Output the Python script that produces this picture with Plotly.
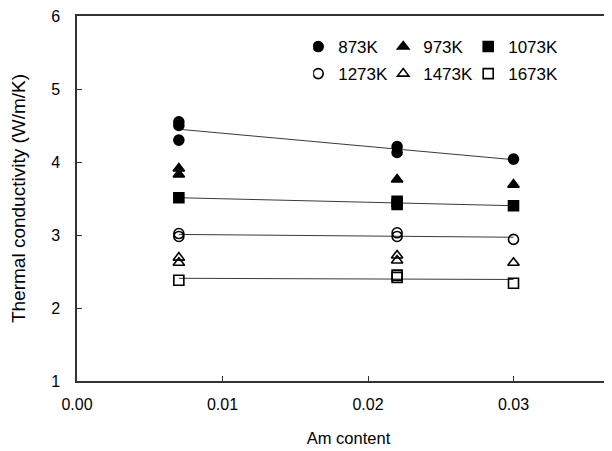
import numpy as np
import plotly.graph_objects as go

# Data
series_names = ["873K", "973K", "1073K", "1273K", "1473K", "1673K"]
x_873 = [0.007, 0.007, 0.007, 0.022, 0.022, 0.030]
y_873 = [4.55, 4.50, 4.30, 4.21, 4.13, 4.04]
x_973 = [0.007, 0.007, 0.022, 0.030]
y_973 = [3.91, 3.83, 3.76, 3.69]
x_1073 = [0.007, 0.022, 0.022, 0.030]
y_1073 = [3.51, 3.46, 3.42, 3.40]
x_1273 = [0.007, 0.007, 0.022, 0.022, 0.030]
y_1273 = [3.02, 2.98, 3.03, 2.98, 2.94]
x_1473 = [0.007, 0.007, 0.022, 0.022, 0.030]
y_1473 = [2.69, 2.62, 2.72, 2.65, 2.62]
x_1673 = [0.007, 0.022, 0.022, 0.030]
y_1673 = [2.38, 2.45, 2.42, 2.34]

xs = [x_873, x_973, x_1073, x_1273, x_1473, x_1673]
ys = [y_873, y_973, y_1073, y_1273, y_1473, y_1673]
symbols = ["circle", "triangle-up", "square", "circle-open", "triangle-up-open", "square-open"]
has_trend = [True, False, True, True, False, True]
legend_ids = ["legend", "legend", "legend", "legend2", "legend2", "legend2"]

x_tick_vals = [0.00, 0.01, 0.02, 0.03]
x_tick_text = ["0.00", "0.01", "0.02", "0.03"]
y_tick_vals = [1, 2, 3, 4, 5, 6]

FONT = "Liberation Sans, Arial, sans-serif"
fig = go.Figure()

for name, x, y, sym, tr in zip(series_names, xs, ys, symbols, has_trend):
    if tr:
        k, b = np.polyfit(x, y, 1)
        xl = [min(x), max(x)]
        fig.add_trace(go.Scatter(x=xl, y=[k * v + b for v in xl], mode="lines",
                                 line=dict(color="#3a3a3a", width=1), showlegend=False,
                                 hoverinfo="skip"))

for name, x, y, sym, lg in zip(series_names, xs, ys, symbols, legend_ids):
    fig.add_trace(go.Scatter(
        x=x, y=y, mode="markers", name=name, legend=lg,
        marker=dict(symbol=sym, size=10, color="black",
                    line=dict(color="black", width=1.6)),
    ))

leg_common = dict(orientation="h", xanchor="left", yanchor="middle",
                  entrywidth=55, bgcolor="rgba(0,0,0,0)", font=dict(size=17),
                  itemwidth=30, indentation=-15)

fig.update_layout(
    width=612, height=451,
    margin=dict(l=69, r=0, t=8, b=78, autoexpand=False),
    paper_bgcolor="white", plot_bgcolor="white",
    font=dict(family=FONT, size=16, color="black"),
    showlegend=True,
    legend=dict(x=0.435, y=0.915, **leg_common),
    legend2=dict(x=0.435, y=0.841, **leg_common),
    xaxis=dict(range=[0, 0.03732], tickvals=x_tick_vals, ticktext=x_tick_text,
               ticks="inside", ticklen=5, tickcolor="#333333",
               showline=True, linecolor="#333333", linewidth=1.5, mirror=True,
               showgrid=False, zeroline=False, ticklabelstandoff=8,
               ticklabeloverflow="allow",
               title=dict(text="Am content", font=dict(size=16.5), standoff=20),
               tickfont=dict(size=16)),
    yaxis=dict(range=[1, 6], tickvals=y_tick_vals,
               ticks="inside", ticklen=5, tickcolor="#333333",
               showline=True, linecolor="#333333", linewidth=1.5,
               showgrid=False, zeroline=False, ticklabelstandoff=12,
               ticklabeloverflow="allow",
               title=dict(text="Thermal conductivity (W/m/K)", font=dict(size=19), standoff=20),
               tickfont=dict(size=16)),
)

fig.write_html("out.html")
